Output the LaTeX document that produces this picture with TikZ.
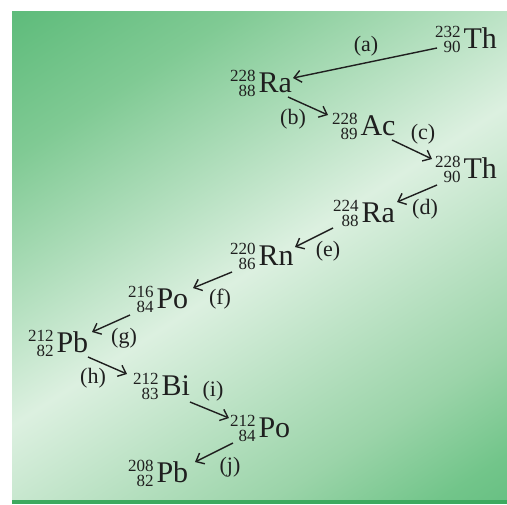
\documentclass[tikz,border=0pt]{standalone}
\usepackage{fontspec}
\setmainfont{Liberation Serif}
\usetikzlibrary{arrows.meta,calc}
\definecolor{gA}{RGB}{100,190,128}
\definecolor{gB}{RGB}{114,197,138}
\definecolor{gC}{RGB}{155,212,169}
\definecolor{gD}{RGB}{220,240,224}
\definecolor{gE}{RGB}{128,202,148}
\definecolor{gF}{RGB}{93,187,122}
\definecolor{gdark}{RGB}{60,170,95}
\pgfdeclareverticalshading{bandshade}{100bp}{color(0bp)=(gA); color(25bp)=(gA); color(29bp)=(gB); color(35.5bp)=(gC); color(50bp)=(gD); color(66bp)=(gE); color(75bp)=(gF); color(100bp)=(gF)}
\newcommand\nuc[3]{{\fontsize{8.5}{9}\selectfont\rlap{\raisebox{5.5pt}{#1}}\raisebox{-2pt}{\phantom{0}#2}}\kern1.5pt{\fontsize{15}{17}\selectfont #3}}
\tikzset{
  nuclide/.style={anchor=base west, inner sep=0pt, outer sep=0pt, text=black!88},
  lab/.style={font=\fontsize{11}{13}\selectfont, inner sep=0pt, text=black!88},
  decay/.style={line width=0.7pt, draw=black!88, -{Straight Barb[length=3.5pt,width=6pt]}}
}
\begin{document}
\begin{tikzpicture}[x=0.5pt,y=-0.5pt]
\useasboundingbox (0,0) rectangle (507,504);
\fill[white] (0,0) rectangle (507,504);
\begin{scope}
\clip (12,11) rectangle (512,500);
\begin{scope}[transform canvas={shift={(260,265)}, rotate=32.9}]
\shade[shading=bandshade] (-520,-350) rectangle (520,350);
\end{scope}
\end{scope}
\fill[gdark] (12,500) rectangle (512,504);

\node[nuclide] (th232) at (435,48) {\nuc{232}{90}{Th}};
\node[nuclide] (ra228) at (230,92) {\nuc{228}{88}{Ra}};
\node[nuclide] (ac228) at (332,135) {\nuc{228}{89}{Ac}};
\node[nuclide] (th228) at (435,178) {\nuc{228}{90}{Th}};
\node[nuclide] (ra224) at (333,222) {\nuc{224}{88}{Ra}};
\node[nuclide] (rn220) at (230,265) {\nuc{220}{86}{Rn}};
\node[nuclide] (po216) at (128,308) {\nuc{216}{84}{Po}};
\node[nuclide] (pb212) at (28,352) {\nuc{212}{82}{Pb}};
\node[nuclide] (bi212) at (133,395) {\nuc{212}{83}{Bi}};
\node[nuclide] (po212) at (230,437) {\nuc{212}{84}{Po}};
\node[nuclide] (pb208) at (128,482) {\nuc{208}{82}{Pb}};

\draw[decay] ($(th232.base west)+(2,0)$) -- ($(ra228.base west)+(63,-14)$);
\draw[decay] ($(ra228.base west)+(58,5)$) -- ($(ac228.base west)+(-4,-20)$);
\draw[decay] ($(ac228.base west)+(60,5)$) -- ($(th228.base west)+(-3,-19)$);
\draw[decay] ($(th228.base west)+(2,7)$) -- ($(ra224.base west)+(64,-20)$);
\draw[decay] ($(ra224.base west)+(0,6)$) -- ($(rn220.base west)+(65,-18)$);
\draw[decay] ($(rn220.base west)+(2,7)$) -- ($(po216.base west)+(65,-20)$);
\draw[decay] ($(po216.base west)+(2,7)$) -- ($(pb212.base west)+(64,-20)$);
\draw[decay] ($(pb212.base west)+(60,5)$) -- ($(bi212.base west)+(-6,-21)$);
\draw[decay] ($(bi212.base west)+(57,7)$) -- ($(po212.base west)+(-1,-19)$);
\draw[decay] ($(po212.base west)+(3,6)$) -- ($(pb208.base west)+(67,-20)$);

\node[lab] (la) at (366,46) {(a)};
\node[lab] (lb) at (293,119) {(b)};
\node[lab] (lc) at (423,134) {(c)};
\node[lab] (ld) at (425,209) {(d)};
\node[lab] (le) at (328,251) {(e)};
\node[lab] (lf) at (220,299) {(f)};
\node[lab] (lg) at (124,338) {(g)};
\node[lab] (lh) at (93,378) {(h)};
\node[lab] (li) at (213,391) {(i)};
\node[lab] (lj) at (230,467) {(j)};
\end{tikzpicture}
\end{document}
